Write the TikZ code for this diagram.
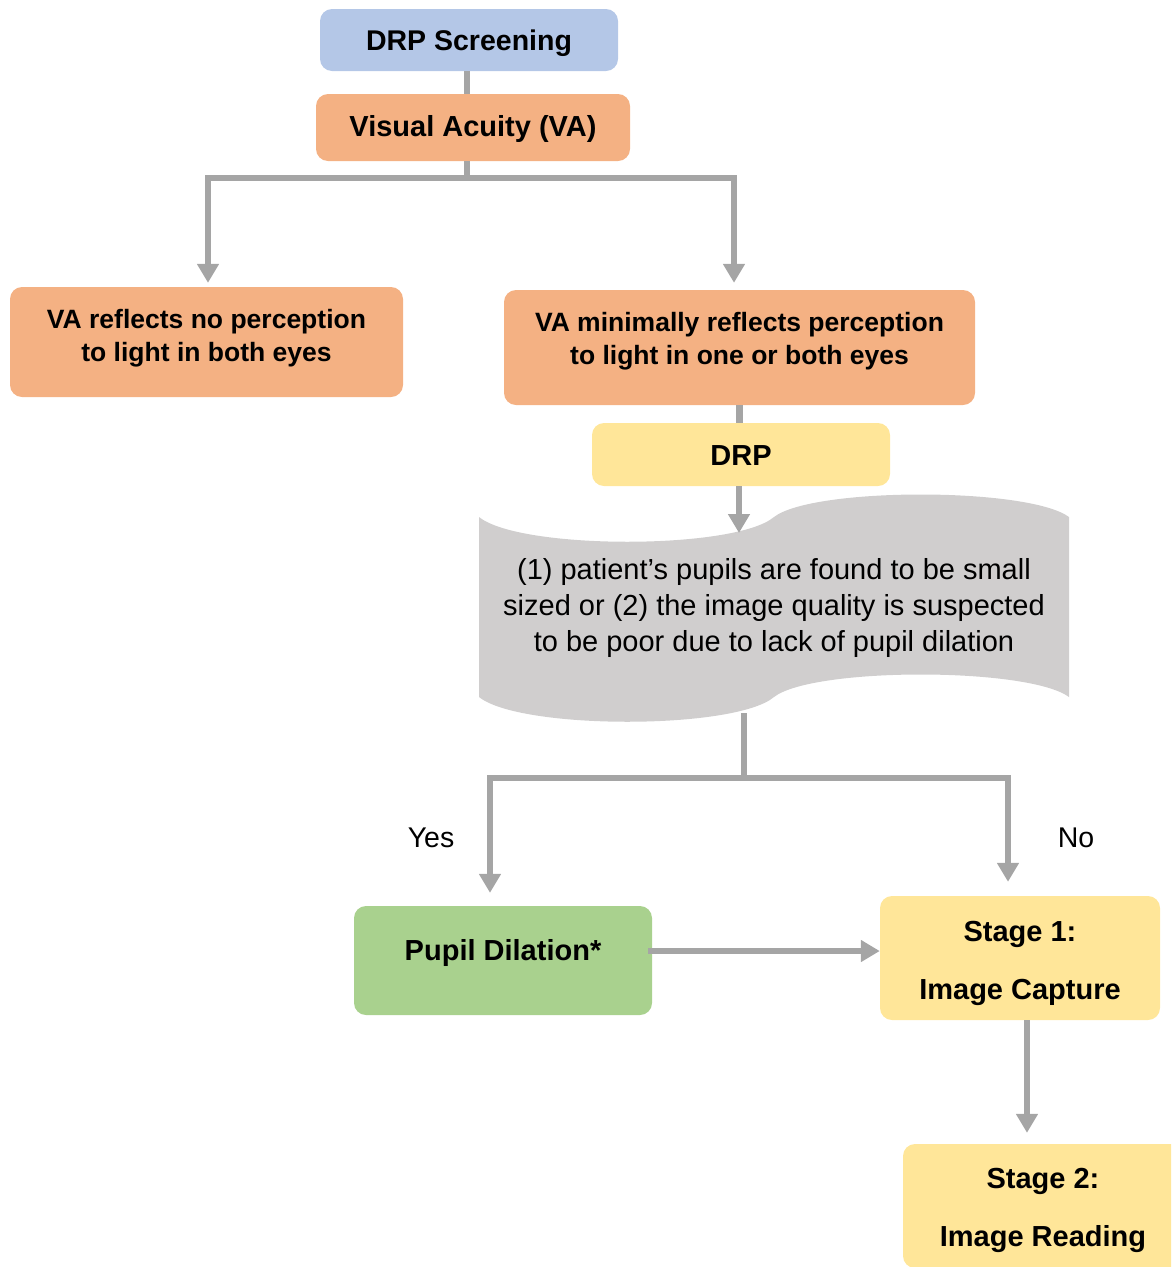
\documentclass[tikz,border=0pt]{standalone}
\usepackage{fontspec}
\setmainfont{Liberation Sans}
\usetikzlibrary{arrows.meta,calc}
\definecolor{cblue}{HTML}{B4C7E7}
\definecolor{corange}{HTML}{F4B183}
\definecolor{cyellow}{HTML}{FFE699}
\definecolor{cgreen}{HTML}{A9D18E}
\definecolor{ctape}{HTML}{D0CECE}
\definecolor{cline}{HTML}{A5A5A5}
\begin{document}
\begin{tikzpicture}[x=1pt,y=-1pt,
  boxshape/.style={rounded corners=12pt, inner sep=0pt},
  bigtxt/.style={align=center, inner sep=0pt, font=\bfseries\fontsize{29}{35}\selectfont},
  stagetxt/.style={align=center, inner sep=0pt, font=\bfseries\fontsize{29}{58}\selectfont},
  txt/.style={align=center, inner sep=0pt, font=\bfseries\fontsize{26.5}{33}\selectfont},
  conn/.style={draw=cline, line width=6.5pt},
  arr/.style={conn, -{Triangle[width=21pt,length=19pt]}},
  lbl/.style={inner sep=0pt, font=\fontsize{28.5}{34}\selectfont}]
\useasboundingbox (0,0) rectangle (1171,1267);
\clip (0,0) rectangle (1171,1267);

% boxes
\node[boxshape, fill=cblue, minimum width=298pt, minimum height=62pt] (scr) at (469,40) {};
\node[bigtxt, font=\bfseries\fontsize{28.5}{34}\selectfont] (scrT) at ([yshift=-3pt]scr.center) {DRP Screening};
\node[boxshape, fill=corange, minimum width=314pt, minimum height=67pt] (va) at (473,127.5) {};
\node[bigtxt] (vaT) at ([yshift=-1pt]va.center) {Visual Acuity (VA)};
\node[boxshape, fill=corange, minimum width=393pt, minimum height=110pt] (nolight) at (206.5,342) {};
\node[txt] (nolightT) at ([yshift=3.5pt]nolight.center) {VA reflects no perception\\to light in both eyes};
\node[boxshape, fill=corange, minimum width=471pt, minimum height=115pt] (minlight) at (739.5,347.5) {};
\node[txt] (minlightT) at ([yshift=6pt]minlight.center) {VA minimally reflects perception\\to light in one or both eyes};
\node[boxshape, fill=cyellow, minimum width=298pt, minimum height=63pt] (drp) at (741,454.5) {};
\node[bigtxt] (drpT) at ([yshift=-1pt]drp.center) {DRP};

% tape shape
\fill[ctape] (479,517) .. controls (520,550) and (735,550) .. (774,517)
  .. controls (813,487) and (1028,487) .. (1069,517) -- (1069,697)
  .. controls (1028,667) and (813,667) .. (774,697)
  .. controls (735,730) and (520,730) .. (479,697) -- cycle;
\node[align=center, inner sep=0pt, font=\fontsize{29}{36}\selectfont] (tape) at (774,608)
  {(1) patient’s pupils are found to be small\\sized or (2) the image quality is suspected\\to be poor due to lack of pupil dilation};
\coordinate (tapetop) at (739,533);
\coordinate (tapebot) at (744,713);

\node[boxshape, fill=cgreen, minimum width=298pt, minimum height=109pt] (pupil) at (503,960.5) {};
\node[bigtxt] (pupilT) at ([yshift=7.5pt]pupil.center) {Pupil Dilation*};
\node[boxshape, fill=cyellow, minimum width=280pt, minimum height=124pt] (st1) at (1020,958) {};
\node[stagetxt] (st1T) at ([yshift=-5pt]st1.center) {Stage 1:\\Image Capture};
\node[boxshape, fill=cyellow, minimum width=280pt, minimum height=124pt] (st2) at (1043,1206) {};
\node[stagetxt] (st2T) at ([yshift=-4pt]st2.center) {Stage 2:\\Image Reading};

% labels
\node[lbl] (yes) at (431,838) {Yes};
\node[lbl] (no) at (1076,838) {No};

% connectors
\coordinate (b1) at (467,178);
\coordinate (b2) at (744,778);
\draw[conn] ([xshift=-2pt]scr.south) -- ([xshift=-2pt]scr.south |- va.north);
\draw[conn] (va.south -| b1) -- (b1);
\draw[arr] (b1) -| ([xshift=1.5pt,yshift=4pt]nolight.north);
\draw[arr] (b1) -| ([xshift=-5.5pt,yshift=7pt]minlight.north);
\draw[conn] (minlight.south) -- (minlight.south |- drp.north);
\draw[arr] (drp.south -| tapetop) -- (tapetop);
\draw[conn] (tapebot) -- (b2);
\draw[arr] (b2) -| ([xshift=-13pt,yshift=13pt]pupil.north);
\draw[arr] (b2) -| ([xshift=-12pt,yshift=14pt]st1.north);
\draw[arr] ([xshift=-4pt,yshift=9.5pt]pupil.east) -- ([yshift=9.5pt]pupil.east -| st1.west);
\draw[arr] ([xshift=7pt]st1.south) -- ($(st2.north)+(-16pt,11pt)$);
\end{tikzpicture}
\end{document}
